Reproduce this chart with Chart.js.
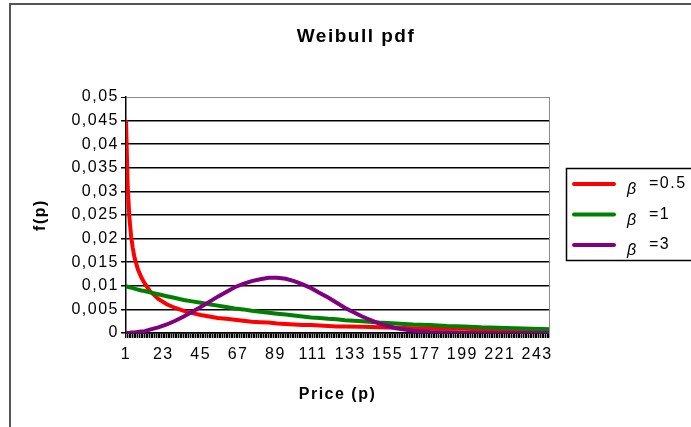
<!DOCTYPE html>
<html lang="en">
<head>
  <meta charset="UTF-8" />
  <title>Weibull pdf</title>
  <script src="https://cdn.jsdelivr.net/npm/chart.js"></script>
  <style>
    html, body { margin: 0; padding: 0; background: #fff; }
    canvas { display: block; }
  </style>
</head>
<body>
  <canvas id="weibullChart" width="691" height="427"></canvas>

  <script>
    // values (price p -> f(p))
    const prices = [1, 2, 3, 4, 5, 6, 8, 10, 12, 15, 20, 25, 30, 35, 40, 45, 50, 55, 60, 65, 70, 75, 80, 85,
      90, 95, 100, 105, 110, 115, 120, 125, 130, 140, 150, 160, 170, 180, 190, 200, 210, 220, 230, 240, 250];
    const pdfBeta05 = [0.045, 0.031, 0.0245, 0.0205, 0.018, 0.016, 0.0135, 0.0118, 0.0105, 0.0089, 0.0072,
      0.0061, 0.0053, 0.0047, 0.0042, 0.0038, 0.0035, 0.0032, 0.0030, 0.0028, 0.0026, 0.0024, 0.0023, 0.0022,
      0.0020, 0.0019, 0.0018, 0.0017, 0.0017, 0.0016, 0.0015, 0.0014, 0.0014, 0.0013, 0.0012, 0.0011, 0.0010,
      0.0010, 0.0009, 0.0009, 0.0008, 0.0008, 0.0007, 0.0007, 0.0007];
    const pdfBeta1 = [0.0099, 0.0098, 0.0097, 0.0096, 0.0095, 0.0094, 0.0092, 0.0090, 0.0089, 0.0086, 0.0082,
      0.0078, 0.0074, 0.0070, 0.0067, 0.0064, 0.0061, 0.0058, 0.0055, 0.0052, 0.0050, 0.0047, 0.0045, 0.0043,
      0.0041, 0.0039, 0.0037, 0.0035, 0.0033, 0.0032, 0.0030, 0.0029, 0.0027, 0.0025, 0.0022, 0.0020, 0.0018,
      0.0017, 0.0015, 0.0014, 0.0012, 0.0011, 0.0010, 0.0009, 0.0008];
    const pdfBeta3 = [0, 0, 0, 0.0001, 0.0001, 0.0001, 0.0002, 0.0003, 0.0004, 0.0007, 0.0012,
      0.0018, 0.0026, 0.0035, 0.0045, 0.0055, 0.0066, 0.0077, 0.0087, 0.0097, 0.0104, 0.0110, 0.0114, 0.0117,
      0.0117, 0.0115, 0.0110, 0.0103, 0.0095, 0.0085, 0.0075, 0.0064, 0.0053, 0.0035, 0.0020, 0.0010, 0.0005,
      0.0002, 0.0001, 0, 0, 0, 0, 0, 0];
    const shapes = ['0.5', '1', '3'];
    const colors = ['#ff0000', '#008000', '#800080'];
    const xTickLabels = [1, 23, 45, 67, 89, 111, 133, 155, 177, 199, 221, 243];

    Chart.defaults.font.family = '"Liberation Sans", Arial, sans-serif';
    Chart.defaults.font.size = 16;
    Chart.defaults.color = '#000';

    const toPoints = vals => prices.map((p, i) => ({ x: p, y: vals[i] }));
    const commaNum = v => String(Math.round(v * 1000) / 1000).replace('.', ',');

    // wide Excel-like lettering
    const spacing = {
      id: 'spacing',
      beforeUpdate(chart) { chart.ctx.letterSpacing = '1.5px'; },
      beforeDraw(chart) { chart.ctx.letterSpacing = '1.5px'; }
    };

    const frame = {
      id: 'frame',
      beforeDraw(chart) {
        const ctx = chart.ctx;
        ctx.save();
        ctx.fillStyle = '#fff';
        ctx.fillRect(0, 0, chart.width, chart.height);
        ctx.strokeStyle = '#555';
        ctx.lineWidth = 2;
        ctx.beginPath();
        ctx.moveTo(10, chart.height);
        ctx.lineTo(10, 4);
        ctx.lineTo(chart.width, 4);
        ctx.stroke();
        ctx.restore();
      },
      afterDraw(chart) {
        const ctx = chart.ctx;
        const a = chart.chartArea;
        ctx.save();
        // plot border on the right
        ctx.strokeStyle = '#8c8c8c';
        ctx.lineWidth = 1;
        ctx.beginPath();
        ctx.moveTo(a.right + 0.5, a.top);
        ctx.lineTo(a.right + 0.5, a.bottom);
        ctx.stroke();

        // title
        ctx.fillStyle = '#000';
        ctx.font = 'bold 19px "Liberation Sans", Arial, sans-serif';
        ctx.textAlign = 'center';
        ctx.textBaseline = 'middle';
        ctx.fillText('Weibull pdf', 356, 37);

        // legend box
        ctx.strokeStyle = '#000';
        ctx.lineWidth = 1.5;
        ctx.strokeRect(566.5, 168.5, 140, 92);
        ctx.textAlign = 'left';
        chart.data.datasets.forEach((ds, i) => {
          const y = 184 + i * 30.5;
          ctx.strokeStyle = ds.borderColor;
          ctx.lineWidth = 4;
          ctx.lineCap = 'round';
          ctx.beginPath();
          ctx.moveTo(574, y);
          ctx.lineTo(614, y);
          ctx.stroke();
          ctx.font = 'italic 16px "Liberation Sans", Arial, sans-serif';
          ctx.fillText('β', 627, y + 6);
          ctx.font = '16px "Liberation Sans", Arial, sans-serif';
          ctx.fillText('=' + shapes[i], 649, y);
        });
        ctx.restore();
      }
    };

    new Chart(document.getElementById('weibullChart'), {
      type: 'line',
      data: {
        datasets: [pdfBeta05, pdfBeta1, pdfBeta3].map((vals, i) => ({
          label: 'β =' + shapes[i],
          data: toPoints(vals),
          borderColor: colors[i],
          backgroundColor: colors[i],
          borderWidth: 4,
          pointRadius: 0,
          tension: 0,
          fill: false,
          order: 2 - i
        }))
      },
      options: {
        responsive: false,
        animation: false,
        layout: { padding: { top: 97, right: 142, bottom: 0, left: 0 } },
        plugins: {
          legend: { display: false },
          tooltip: { enabled: false },
          title: { display: false }
        },
        scales: {
          x: {
            type: 'linear',
            min: 1,
            max: 250,
            afterBuildTicks: axis => {
              const t = [];
              for (let v = 1; v <= 250; v++) t.push({ value: v });
              axis.ticks = t;
            },
            afterFit: s => { s.height = 94; },
            ticks: {
              autoSkip: false,
              maxRotation: 0,
              padding: 7,
              callback: v => xTickLabels.includes(v) ? String(v) : ''
            },
            grid: { drawOnChartArea: false, drawTicks: true, tickLength: 5, color: '#000', lineWidth: 1.4 },
            border: { color: '#000', width: 1.5 },
            title: {
              display: true,
              text: 'Price (p)',
              font: { size: 16, weight: 'bold' },
              padding: { top: 0, bottom: 23 }
            }
          },
          y: {
            min: 0,
            max: 0.05,
            afterFit: s => { s.width = 126; },
            ticks: { stepSize: 0.005, padding: 2, callback: v => commaNum(v) },
            grid: {
              color: c => (c.tick && c.tick.value > 0.0499) ? '#8c8c8c' : '#000',
              lineWidth: c => (c.tick && c.tick.value > 0.0499) ? 1 : 1.5,
              tickColor: '#000',
              tickLength: 5
            },
            border: { color: '#000', width: 1.5 },
            title: {
              display: true,
              text: 'f(p)',
              font: { size: 16, weight: 'bold' },
              padding: { top: 31, bottom: 0 }
            }
          }
        }
      },
      plugins: [spacing, frame]
    });
  </script>
</body>
</html>
